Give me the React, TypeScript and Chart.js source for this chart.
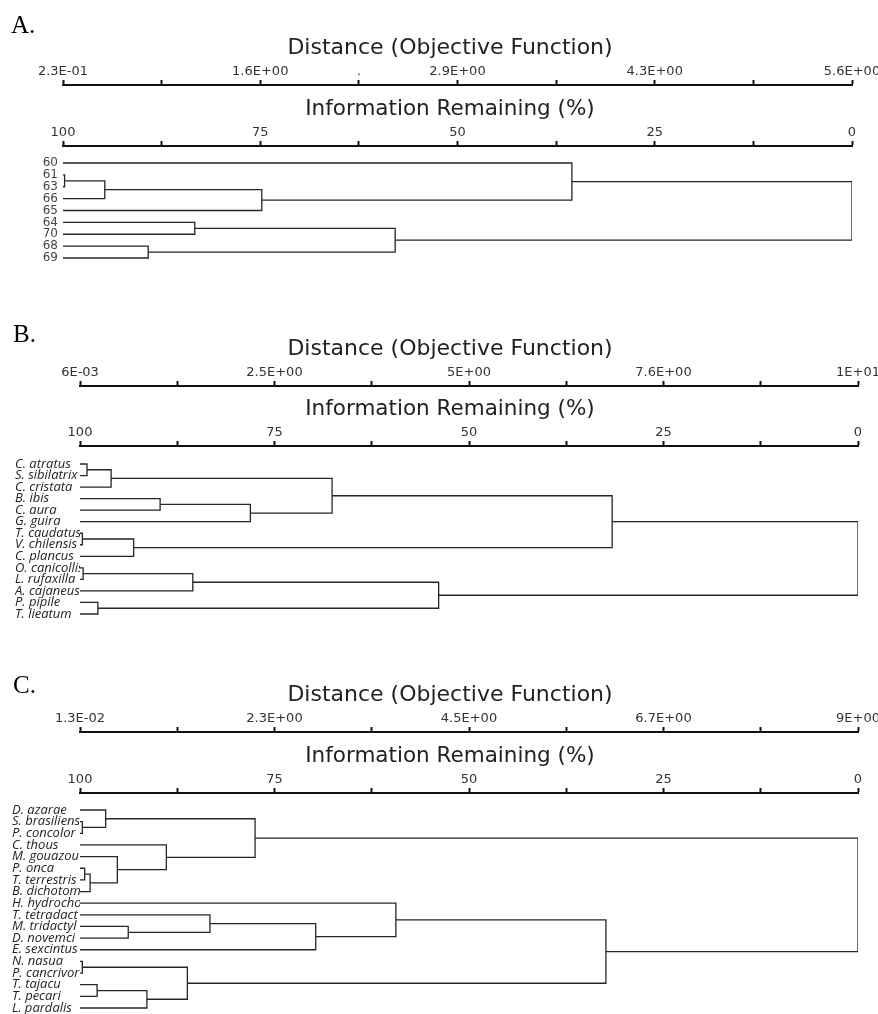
import { useEffect, useRef } from 'react';
import { Chart, registerables } from 'chart.js';

Chart.register(...registerables);

// ---------- DATA ----------
// Information remaining (%) tick labels (shared by every panel)
const infoTickLabels = ['100', '', '75', '', '50', '', '25', '', '0'];

// Panel A
const leavesA = ['60', '61', '63', '66', '65', '64', '70', '68', '69'];
const distTicksA = ['2.3E-01', '', '1.6E+00', '.', '2.9E+00', '', '4.3E+00', '', '5.6E+00'];
// merges: [childA, childB, information remaining %]; negative = leaf (1-based), positive = earlier merge (1-based)
const mergesA: [number, number, number][] = [
  [-2, -3, 99.8],
  [1, -4, 94.7],
  [2, -5, 74.8],
  [-1, 3, 35.5],
  [-6, -7, 83.3],
  [-8, -9, 89.2],
  [5, 6, 57.9],
  [4, 7, 0],
];

// Panel B
const leavesB = [
  'C. atratus', 'S. sibilatrix', 'C. cristata', 'B. ibis', 'C. aura', 'G. guira',
  'T. caudatus', 'V. chilensis', 'C. plancus', 'O. canicollis', 'L. rufaxilla',
  'A. cajaneus', 'P. pipile', 'T. lieatum',
];
const distTicksB = ['6E-03', '', '2.5E+00', '', '5E+00', '', '7.6E+00', '', '1E+01'];
const mergesB: [number, number, number][] = [
  [-1, -2, 99.1],
  [1, -3, 96.0],
  [-4, -5, 89.7],
  [3, -6, 78.1],
  [2, 4, 67.6],
  [-7, -8, 99.7],
  [6, -9, 93.1],
  [5, 7, 31.6],
  [-10, -11, 99.6],
  [9, -12, 85.5],
  [-13, -14, 97.7],
  [10, 11, 53.9],
  [8, 12, 0],
];

// Panel C
const leavesC = [
  'D. azarae', 'S. brasiliens', 'P. concolor', 'C. thous', 'M. gouazou', 'P. onca',
  'T. terrestris', 'B. dichotom', 'H. hydrocho', 'T. tetradact', 'M. tridactyl',
  'D. novemci', 'E. sexcintus', 'N. nasua', 'P. cancrivor', 'T. tajacu', 'T. pecari',
  'L. pardalis',
];
const distTicksC = ['1.3E-02', '', '2.3E+00', '', '4.5E+00', '', '6.7E+00', '', '9E+00'];
const mergesC: [number, number, number][] = [
  [-2, -3, 99.7],
  [-1, 1, 96.7],
  [-6, -7, 99.4],
  [3, -8, 98.7],
  [-5, 4, 95.2],
  [-4, 5, 88.9],
  [2, 6, 77.5],
  [-11, -12, 93.8],
  [-10, 8, 83.3],
  [9, -13, 69.7],
  [-9, 10, 59.4],
  [-14, -15, 99.7],
  [-16, -17, 97.8],
  [13, -18, 91.4],
  [12, 14, 86.2],
  [11, 15, 32.4],
  [7, 16, 0],
];

const distTitle = 'Distance (Objective Function)';
const infoTitle = 'Information Remaining (%)';

// ---------- LAYOUT ----------
type Panel = {
  letter: string;
  leaves: string[];
  merges: [number, number, number][];
  distTicks: string[];
  top: number;
  height: number;
  distLine: number;
  infoLine: number;
  firstLeaf: number;
  lastLeaf: number;
  left: number;
  right: number;
  padLeft: number;
  italic: boolean;
  letterX: number;
  letterBaseline: number;
};

const panels: Panel[] = [
  {
    letter: 'A.', leaves: leavesA, merges: mergesA, distTicks: distTicksA,
    top: 0, height: 290, distLine: 85, infoLine: 146, firstLeaf: 163, lastLeaf: 258,
    left: 63, right: 852, padLeft: 0, italic: false, letterX: 11, letterBaseline: 33,
  },
  {
    letter: 'B.', leaves: leavesB, merges: mergesB, distTicks: distTicksB,
    top: 290, height: 355, distLine: 386, infoLine: 446, firstLeaf: 464, lastLeaf: 614,
    left: 80, right: 858, padLeft: 15, italic: true, letterX: 13, letterBaseline: 342,
  },
  {
    letter: 'C.', leaves: leavesC, merges: mergesC, distTicks: distTicksC,
    top: 645, height: 375, distLine: 732, infoLine: 793, firstLeaf: 810, lastLeaf: 1008,
    left: 80, right: 858, padLeft: 12, italic: true, letterX: 13, letterBaseline: 693,
  },
];

const W = 878;
const DIST_H = 40;
const LINE_COLOR = '#262626';
const AXIS_COLOR = '#111';

function buildSegments(merges: [number, number, number][]) {
  const nodes: { x: number; y: number }[] = [];
  const pos = (ref: number) => (ref < 0 ? { x: 100, y: -ref - 1 } : nodes[ref - 1]);
  return merges.map(([a, b, h]) => {
    const pa = pos(a);
    const pb = pos(b);
    nodes.push({ x: h, y: (pa.y + pb.y) / 2 });
    return [
      { x: pa.x, y: pa.y },
      { x: h, y: pa.y },
      { x: h, y: pb.y },
      { x: pb.x, y: pb.y },
    ];
  });
}

function topAxis(labels: string[], height: number, weight: number) {
  return {
    type: 'linear' as const,
    position: 'top' as const,
    reverse: true,
    min: 0,
    max: 100,
    weight,
    afterBuildTicks: (s: any) => {
      s.ticks = labels.map((_, i) => ({ value: 100 - i * 12.5 }));
    },
    afterFit: (s: any) => {
      s.height = height;
      s.paddingLeft = 0;
      s.paddingRight = 0;
    },
    ticks: {
      autoSkip: false,
      maxRotation: 0,
      minRotation: 0,
      padding: 1,
      color: '#333',
      font: { family: 'DejaVu Sans', size: 13 },
      callback: (v: any) => labels[Math.round((100 - Number(v)) / 12.5)] ?? '',
    },
    grid: {
      drawOnChartArea: false,
      drawTicks: true,
      tickLength: 5,
      tickWidth: 2,
      tickColor: AXIS_COLOR,
    },
    border: { display: true, width: 2, color: AXIS_COLOR },
  };
}

function PanelChart({ p }: { p: Panel }) {
  const ref = useRef<HTMLCanvasElement | null>(null);
  useEffect(() => {
    if (!ref.current) return;
    const segs = buildSegments(p.merges);
    const n = p.leaves.length;
    const sp = (p.lastLeaf - p.firstLeaf) / (n - 1);
    const yMin = -(p.firstLeaf - p.infoLine) / sp;
    const yMax = n - 1 + (p.top + p.height - p.lastLeaf) / sp;
    const chart = new Chart(ref.current, {
      type: 'scatter',
      data: {
        datasets: segs.map((s) => ({
          data: s,
          showLine: true,
          borderColor: LINE_COLOR,
          borderWidth: 1.3,
          pointRadius: 0,
          pointHoverRadius: 0,
          tension: 0,
          fill: false,
        })),
      },
      options: {
        responsive: false,
        animation: false,
        events: [],
        layout: {
          padding: {
            top: p.distLine - p.top - DIST_H,
            left: p.padLeft,
            right: W - p.right,
            bottom: 0,
          },
        },
        plugins: {
          legend: { display: false },
          tooltip: { enabled: false },
          title: { display: false },
        },
        scales: {
          x: topAxis(infoTickLabels, p.infoLine - p.distLine, 1),
          dist: topAxis(p.distTicks, DIST_H, 2),
          y: {
            type: 'linear',
            reverse: true,
            min: yMin,
            max: yMax,
            afterBuildTicks: (s: any) => {
              s.ticks = p.leaves.map((_, i) => ({ value: i }));
            },
            afterFit: (s: any) => {
              s.width = p.left - p.padLeft;
              s.paddingTop = 0;
              s.paddingBottom = 0;
            },
            ticks: {
              autoSkip: false,
              padding: p.italic ? 0 : 5,
              crossAlign: p.italic ? 'far' : 'near',
              color: p.italic ? '#1e1e1e' : '#444',
              font: p.italic
                ? { family: 'Open Sans', size: 13, style: 'italic' }
                : { family: 'DejaVu Sans', size: 12 },
              callback: (v: any) => p.leaves[Math.round(Number(v))] ?? '',
            },
            grid: { display: false, drawTicks: false },
            border: { display: false },
          },
        },
      } as any,
    });
    return () => chart.destroy();
  }, [p]);

  return (
    <>
      <canvas
        ref={ref}
        width={W}
        height={p.height}
        style={{ position: 'absolute', left: 0, top: p.top, display: 'block' }}
      />
      <div
        style={{
          position: 'absolute',
          left: p.letterX,
          top: p.letterBaseline - 21,
          font: '25px "Liberation Serif", "Times New Roman", serif',
          lineHeight: '25px',
          color: '#000',
          whiteSpace: 'nowrap',
        }}
      >
        {p.letter}
      </div>
      <div
        style={{
          position: 'absolute',
          left: 0,
          width: 900,
          top: p.distLine - 48.6,
          textAlign: 'center',
          font: '22px "DejaVu Sans", sans-serif',
          lineHeight: '22px',
          color: '#222',
          whiteSpace: 'nowrap',
        }}
      >
        {distTitle}
      </div>
      <div
        style={{
          position: 'absolute',
          left: 0,
          width: 900,
          top: p.infoLine - 48.6,
          textAlign: 'center',
          font: '21.5px "DejaVu Sans", sans-serif',
          lineHeight: '22px',
          color: '#222',
          whiteSpace: 'nowrap',
        }}
      >
        {infoTitle}
      </div>
    </>
  );
}

export default function App() {
  return (
    <div
      style={{
        position: 'fixed',
        left: 0,
        top: 0,
        width: W,
        height: 1014,
        overflow: 'hidden',
        background: '#fff',
      }}
    >
      {panels.map((p) => (
        <PanelChart key={p.letter} p={p} />
      ))}
    </div>
  );
}
